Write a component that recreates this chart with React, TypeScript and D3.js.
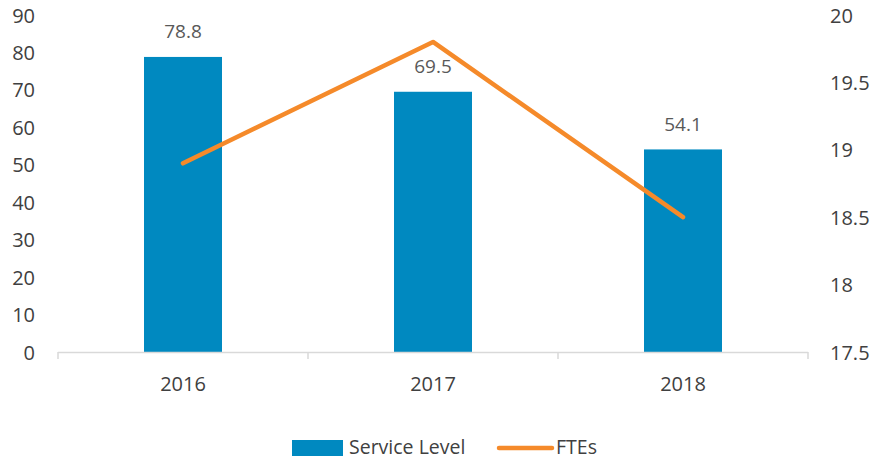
import React from "react";
import * as d3 from "d3";

const categories = ["2016", "2017", "2018"];
const serviceLevel = [78.8, 69.5, 54.1];
const ftes = [18.9, 19.8, 18.5];
const leftTicks = [0, 10, 20, 30, 40, 50, 60, 70, 80, 90];
const rightTicks = [17.5, 18, 18.5, 19, 19.5, 20];

const W = 875;
const H = 460;
const FONT = "'Open Sans', 'Noto Sans', sans-serif";

export default function App() {
  const x0 = 58, x1 = 808;
  const yTop = 15, yBot = 352;
  const x = d3.scaleBand<string>().domain(categories).range([x0, x1]).paddingInner(0).paddingOuter(0);
  const yL = d3.scaleLinear().domain([0, 90]).range([yBot, yTop]);
  const yR = d3.scaleLinear().domain([17.5, 20]).range([yBot, yTop]);
  const barW = 78;
  const line = d3
    .line<number>()
    .x((_, i) => (x(categories[i]) as number) + x.bandwidth() / 2)
    .y((d) => yR(d));
  const tickXs = [...categories.map((c) => x(c) as number), x1];

  return (
    <div style={{ position: "absolute", left: 0, top: 0 }}>
      <svg width={W} height={H} style={{ display: "block", background: "#fff" }} fontFamily={FONT}>
        {/* bars */}
        {categories.map((c, i) => {
          const cx = (x(c) as number) + x.bandwidth() / 2;
          return (
            <g key={c}>
              <rect x={cx - barW / 2} y={yL(serviceLevel[i])} width={barW} height={yBot - yL(serviceLevel[i])} fill="#0089C0" />
              <text x={cx} y={yL(serviceLevel[i]) - 18.5} textAnchor="middle" fontSize={19} fill="#595959">
                {serviceLevel[i].toFixed(1)}
              </text>
            </g>
          );
        })}
        {/* x axis */}
        <line x1={x0} x2={x1} y1={yBot + 0.5} y2={yBot + 0.5} stroke="#D9D9D9" strokeWidth={1.5} />
        {tickXs.map((tx, i) => (
          <line key={i} x1={tx} x2={tx} y1={yBot} y2={yBot + 7} stroke="#D9D9D9" strokeWidth={1.5} />
        ))}
        {categories.map((c) => (
          <text key={c} x={(x(c) as number) + x.bandwidth() / 2} y={391} textAnchor="middle" fontSize={20} fill="#404040">
            {c}
          </text>
        ))}
        {/* left axis labels */}
        {leftTicks.map((t) => (
          <text key={t} x={35} y={yL(t) + 7.5} textAnchor="end" fontSize={20} fill="#404040">
            {t}
          </text>
        ))}
        {/* right axis labels */}
        {rightTicks.map((t) => (
          <text key={t} x={830} y={yR(t) + 7.5} textAnchor="start" fontSize={20} fill="#404040">
            {t}
          </text>
        ))}
        {/* line */}
        <path d={line(ftes) || ""} fill="none" stroke="#F58A2A" strokeWidth={4.5} strokeLinejoin="round" strokeLinecap="round" />
        {/* legend */}
        <rect x={292} y={440} width={51} height={16} fill="#0089C0" />
        <text x={349} y={454} fontSize={19.5} fill="#404040">Service Level</text>
        <line x1={499} x2={552} y1={448} y2={448} stroke="#F58A2A" strokeWidth={4.5} strokeLinecap="round" />
        <text x={556} y={454} fontSize={19.5} fill="#404040">FTEs</text>
      </svg>
    </div>
  );
}
